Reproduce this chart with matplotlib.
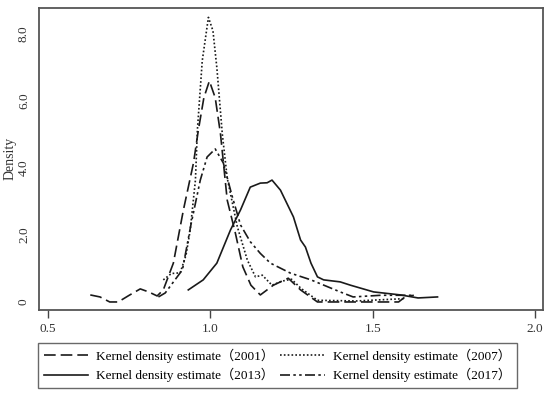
import numpy as np
import matplotlib
matplotlib.use("Agg")
import matplotlib.pyplot as plt

plt.rcParams['font.family'] = ['Liberation Serif', 'Noto Sans CJK SC']

# kernel density curves (x, density)
x2001 = [0.63, 0.66, 0.69, 0.716, 0.75, 0.784, 0.81, 0.836, 0.855, 0.886, 0.917, 0.948, 0.963,
         0.98, 0.997, 1.015, 1.031, 1.052, 1.077, 1.10, 1.125, 1.154, 1.194, 1.24, 1.278,
         1.33, 1.45, 1.58, 1.60, 1.627]
y2001 = [0.21, 0.15, 0.0, 0.0, 0.2, 0.39, 0.3, 0.18, 0.36, 1.16, 2.75, 4.15, 5.13,
         6.1, 6.6, 6.1, 5.04, 3.04, 2.06, 1.05, 0.5, 0.21, 0.5, 0.71, 0.36,
         0.0, 0.0, 0.0, 0.15, 0.2]

x2007 = [0.855, 0.88, 0.907, 0.925, 0.938, 0.954, 0.96, 0.975, 0.994, 1.008, 1.02, 1.037,
         1.052, 1.083, 1.114, 1.139, 1.16, 1.19, 1.22, 1.25, 1.28, 1.33, 1.45, 1.6]
y2007 = [0.66, 0.85, 0.87, 1.4, 2.15, 3.64, 5.13, 7.2, 8.5, 8.1, 7.0, 5.0,
         3.7, 2.25, 1.25, 0.75, 0.8, 0.5, 0.62, 0.68, 0.4, 0.05, 0.03, 0.1]

x2013 = [0.932, 0.978, 1.02, 1.062, 1.093, 1.123, 1.154, 1.175, 1.19, 1.216, 1.256,
         1.278, 1.293, 1.31, 1.33, 1.349, 1.40, 1.432, 1.503, 1.586, 1.64, 1.70]
y2013 = [0.36, 0.66, 1.16, 2.15, 2.75, 3.43, 3.55, 3.56, 3.64, 3.34, 2.54,
         1.85, 1.64, 1.16, 0.75, 0.66, 0.6, 0.5, 0.3, 0.21, 0.12, 0.15]

x2017 = [0.84, 0.861, 0.914, 0.94, 0.969, 0.99, 1.015, 1.04, 1.068, 1.093, 1.123,
         1.154, 1.185, 1.247, 1.31, 1.40, 1.44, 1.525, 1.627]
y2017 = [0.15, 0.27, 0.96, 2.3, 3.64, 4.33, 4.57, 4.15, 3.13, 2.3, 1.8,
         1.45, 1.16, 0.86, 0.66, 0.3, 0.15, 0.2, 0.2]

labels = ['Kernel density estimate（2001）', 'Kernel density estimate（2013）',
          'Kernel density estimate（2007）', 'Kernel density estimate（2017）']

fig = plt.figure(figsize=(5.5, 3.96), dpi=100)
ax = fig.add_axes([39/550, 1-310/396, (543-39)/550, (310-8)/396])

lc = '#1a1a1a'
l1, = ax.plot(x2001, y2001, color=lc, lw=1.2, linestyle=(0, (7, 3)))
l2, = ax.plot(x2007, y2007, color=lc, lw=1.2, linestyle=(0, (1, 1.3)))
l3, = ax.plot(x2013, y2013, color=lc, lw=1.2, linestyle='-')
l4, = ax.plot(x2017, y2017, color=lc, lw=1.2, linestyle=(0, (6, 2, 1.5, 2, 1.5, 2)))

ax.set_xlim(0.472, 2.025)
ax.set_ylim(-0.24, 8.78)
ax.set_xticks([0.5, 1.0, 1.5, 2.0])
ax.set_xticklabels(['0.5', '1.0', '1.5', '2.0'])
ax.set_yticks([0, 2, 4, 6, 8])
ax.set_yticklabels(['0', '2.0', '4.0', '6.0', '8.0'], rotation=90, va='center')
ax.tick_params(axis='x', length=6, width=1, color='#444', labelsize=9.5,
               labelcolor='#333', pad=3)
ax.tick_params(axis='y', length=0, labelsize=9.5, labelcolor='#333', pad=6.5)
for s in ax.spines.values():
    s.set_color('#555')
    s.set_linewidth(1.3)

fig.text(10/550, 1-158/396, 'Density', rotation=90, ha='center', va='center',
         fontsize=10, color='#333')

leg = fig.legend([l1, l3, l2, l4], labels, ncol=2, loc='center',
                 bbox_to_anchor=(0.5045, 0.077), fontsize=9.5, frameon=True,
                 fancybox=False, edgecolor='#444', handlelength=3.4,
                 handletextpad=0.6, columnspacing=0.45, borderpad=0.45,
                 labelspacing=0.4)
leg.get_frame().set_linewidth(1.0)

fig.savefig('out.png', dpi=100)
